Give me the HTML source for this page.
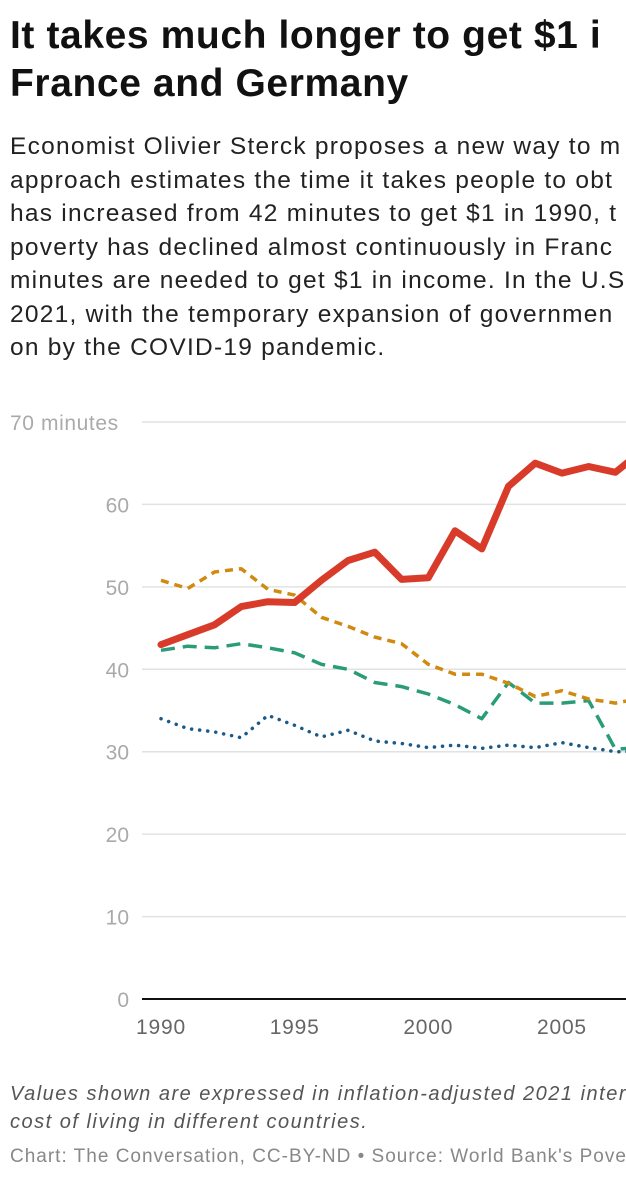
<!DOCTYPE html>
<html><head><meta charset="utf-8"><style>
html,body{margin:0;padding:0;background:#fff;}
body{width:626px;height:1182px;overflow:hidden;position:relative;font-family:"Liberation Sans",sans-serif;}
.t{position:absolute;left:10px;width:616px;overflow:hidden;white-space:nowrap;}
h1{position:absolute;left:10px;top:12px;width:616px;overflow:hidden;margin:0;font-size:39px;line-height:48px;font-weight:bold;color:#111;white-space:nowrap;letter-spacing:0.6px;}
#desc{top:130px;font-size:24.5px;line-height:33.5px;color:#222;letter-spacing:1.25px;}
#note{top:1080px;font-size:20px;line-height:28px;font-style:italic;color:#555;letter-spacing:1.5px;}
#src{top:1146px;font-size:19px;color:#888;letter-spacing:1.0px;}
svg{position:absolute;left:0;top:0;}
</style></head><body>
<h1>It takes much longer to get $1 i<br>France and Germany</h1>
<div id="desc" class="t">Economist Olivier Sterck proposes a new way to m<br>approach estimates the time it takes people to obt<br>has increased from 42 minutes to get $1 in 1990, t<br>poverty has declined almost continuously in Franc<br>minutes are needed to get $1 in income. In the U.S<br>2021, with the temporary expansion of governmen<br>on by the COVID-19 pandemic.</div>
<svg id="chart" width="626" height="1182"></svg>
<div id="note" class="t">Values shown are expressed in inflation-adjusted 2021 inter<br>cost of living in different countries.</div>
<div id="src" class="t">Chart: The Conversation, CC-BY-ND • Source: World Bank's Pove</div>
<script>
const years=[1990,1991,1992,1993,1994,1995,1996,1997,1998,1999,2000,2001,2002,2003,2004,2005,2006,2007,2008];
const usValues=[43,44.2,45.4,47.6,48.2,48.1,50.8,53.2,54.2,50.9,51.1,56.8,54.6,62.2,65,63.8,64.6,63.9,66.5];
const orangeValues=[50.8,49.8,51.8,52.2,49.7,49,46.3,45.2,43.9,43.1,40.6,39.4,39.4,38.3,36.7,37.4,36.4,35.9,36.5];
const greenValues=[42.3,42.8,42.6,43.1,42.6,42,40.6,40,38.4,37.9,37,35.7,34,38.4,35.9,35.9,36.2,30.3,30.5];
const blueValues=[34,32.8,32.4,31.7,34.4,33.2,31.8,32.6,31.3,31,30.5,30.8,30.4,30.8,30.5,31.1,30.5,30,30];
const yTicks=[0,10,20,30,40,50,60,70];
const xTicks=[1990,1995,2000,2005];
const NS='http://www.w3.org/2000/svg';
const svg=document.getElementById('chart');
const x=v=>161+(v-1990)*26.73;
const y=v=>999-v*8.243;
function mk(tag,attrs){const e=document.createElementNS(NS,tag);for(const k in attrs)e.setAttribute(k,attrs[k]);svg.appendChild(e);return e;}
yTicks.forEach(t=>{
  if(t>0){const g=mk('line',{x1:142,x2:626,y1:y(t),y2:y(t),stroke:'#e2e2e2','stroke-width':1.5});
  
  }
  const l=mk('text',{x:t==70?10:129,y:y(t)+8,'text-anchor':t==70?'start':'end','font-size':21,fill:'#aaa','font-family':'Liberation Sans, sans-serif','letter-spacing':t==70?0.6:0});
  l.textContent=t==70?'70 minutes':t;
  
  
});
const ax=mk('line',{x1:142,x2:626,y1:999,y2:999,stroke:'#111','stroke-width':2});


xTicks.forEach(t=>{const l=mk('text',{x:x(t),y:1034,'text-anchor':'middle','font-size':21,fill:'#666','font-family':'Liberation Sans, sans-serif','letter-spacing':0.8});
  l.textContent=t;
  
  });
function series(vals,color,w,dash,name,cap){
  const d=vals.map((v,i)=>(i?'L':'M')+x(years[i]).toFixed(1)+','+y(v).toFixed(1)).join(' ');
  const p=mk('path',{d:d,fill:'none',stroke:color,'stroke-width':w,'stroke-linejoin':'round','stroke-linecap':cap||'butt'});
  if(dash)p.setAttribute('stroke-dasharray',dash);
  
  
}
series(blueValues,'#1a5a8a',3.5,'0.1 8','line-blue','round');
series(greenValues,'#2a9d78',3.5,'14 8','line-green');
series(orangeValues,'#d08a10',3.5,'8 6','line-orange');
series(usValues,'#d93b2b',7,null,'line-us','round');
</script>
</body></html>
